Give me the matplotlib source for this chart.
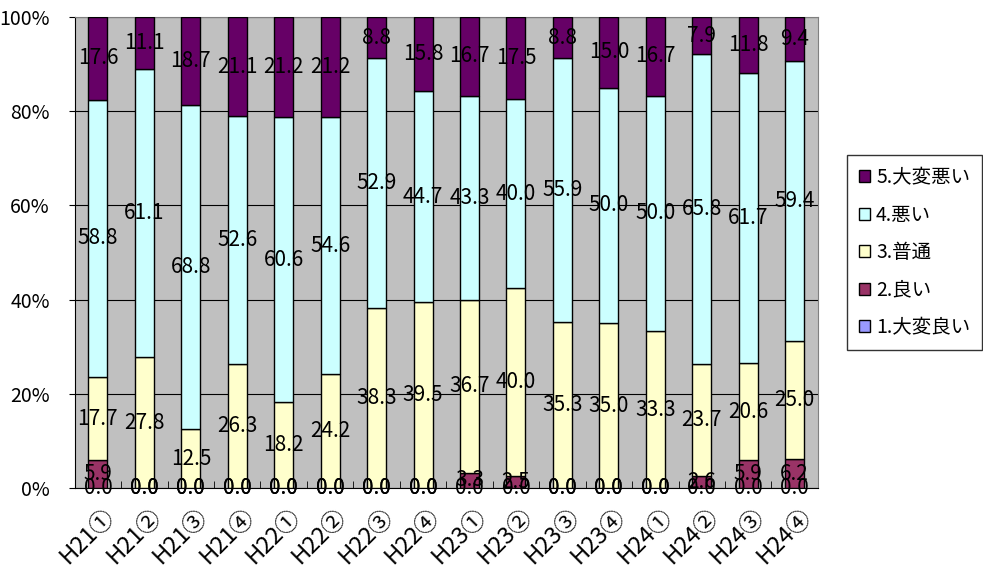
import matplotlib
matplotlib.use('Agg')
import matplotlib.pyplot as plt
import matplotlib.transforms as mtransforms
import numpy as np

plt.rcParams['font.family'] = ['Noto Sans CJK JP', 'DejaVu Sans']

categories = ['H21①', 'H21②', 'H21③', 'H21④', 'H22①', 'H22②', 'H22③', 'H22④',
              'H23①', 'H23②', 'H23③', 'H23④', 'H24①', 'H24②', 'H24③', 'H24④']
very_good = [0.0] * 16
good = [5.9, 0.0, 0.0, 0.0, 0.0, 0.0, 0.0, 0.0, 3.3, 2.5, 0.0, 0.0, 0.0, 2.6, 5.9, 6.2]
normal = [17.7, 27.8, 12.5, 26.3, 18.2, 24.2, 38.3, 39.5, 36.7, 40.0, 35.3, 35.0, 33.3, 23.7, 20.6, 25.0]
bad = [58.8, 61.1, 68.8, 52.6, 60.6, 54.6, 52.9, 44.7, 43.3, 40.0, 55.9, 50.0, 50.0, 65.8, 61.7, 59.4]
very_bad = [17.6, 11.1, 18.7, 21.1, 21.2, 21.2, 8.8, 15.8, 16.7, 17.5, 8.8, 15.0, 16.7, 7.9, 11.8, 9.4]

series = [('1.大変良い', very_good, '#9999FF'),
          ('2.良い', good, '#993366'),
          ('3.普通', normal, '#FFFFCC'),
          ('4.悪い', bad, '#CCFFFF'),
          ('5.大変悪い', very_bad, '#660066')]

fig = plt.figure(figsize=(9.83, 5.67), dpi=100)
ax = fig.add_axes([0.076, 0.139, 0.756, 0.831])
ax.set_facecolor('#C0C0C0')

x = np.arange(len(categories))
bottom = np.zeros(len(categories))
handles = []
for name, vals, color in series:
    vals = np.array(vals)
    b = ax.bar(x, vals, 0.41, bottom=bottom, color=color, edgecolor='black',
               linewidth=1, label=name, zorder=3)
    handles.append(b)
    for xi, v, b0 in zip(x, vals, bottom):
        ax.text(xi, b0 + v / 2, f'{v:.1f}', ha='center', va='center',
                fontsize=15, color='black', zorder=5)
    bottom += vals

ax.set_xlim(-0.5, len(categories) - 0.5)
ax.set_ylim(0, 100)
ax.set_yticks(np.arange(0, 101, 20))
ax.set_yticklabels([f'{v}%' for v in range(0, 101, 20)], fontsize=14)
ax.tick_params(axis='y', length=4, pad=14)
ax.yaxis.grid(True, color='black', linewidth=0.8, zorder=1)
ax.set_xticks(x)
ax.set_xticklabels(categories, rotation=45, ha='right', va='top',
                   rotation_mode='anchor', fontsize=17)
ax.tick_params(axis='x', length=0, pad=12)
shift = mtransforms.ScaledTranslation(0.05, 0, fig.dpi_scale_trans)
for lbl in ax.get_xticklabels():
    lbl.set_transform(lbl.get_transform() + shift)
ax.set_xticks(np.arange(-0.5, len(categories), 1), minor=True)
ax.tick_params(axis='x', which='minor', length=5, direction='in')
for s in ax.spines.values():
    s.set_color('#808080')
ax.spines['bottom'].set_color('black')
ax.spines['left'].set_color('black')

leg = ax.legend(handles[::-1], [s[0] for s in series][::-1],
                loc='center left', bbox_to_anchor=(1.026, 0.50),
                fontsize=14, frameon=True, fancybox=False, edgecolor='black',
                handlelength=0.6, handleheight=0.6, handletextpad=0.3,
                labelspacing=0.85, borderpad=0.6)
leg.get_frame().set_linewidth(1)

fig.savefig('out.png', dpi=100)
